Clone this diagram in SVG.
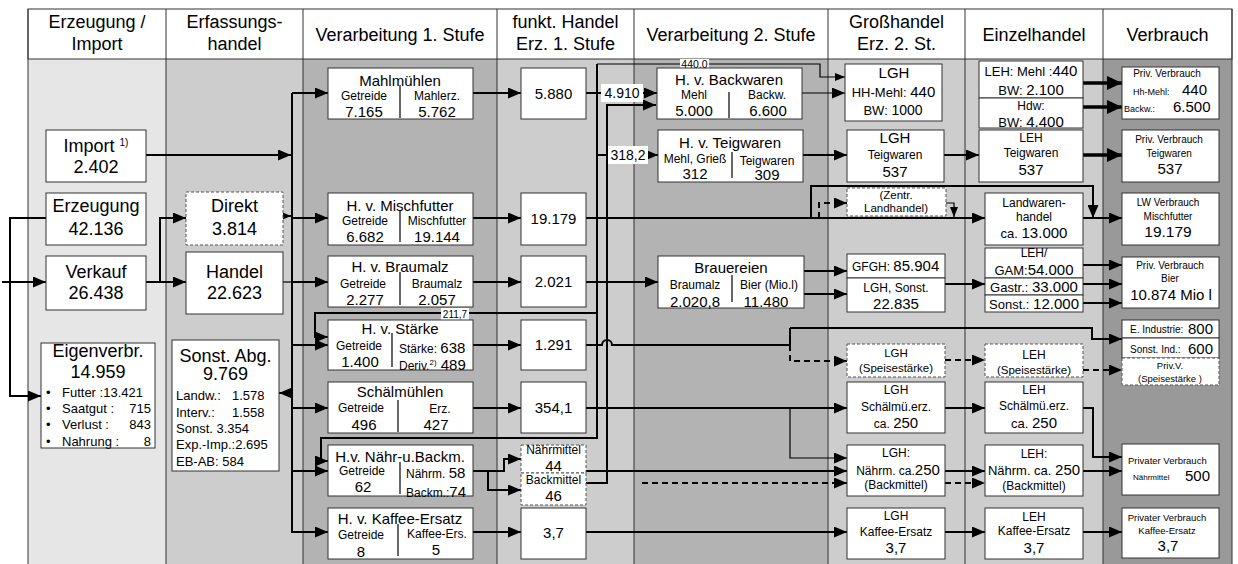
<svg xmlns="http://www.w3.org/2000/svg" width="1238" height="564" viewBox="0 0 1238 564">
<defs>
<style>
text{font-family:"Liberation Sans",Arial,sans-serif;fill:#000}
.hd{font-size:18px;text-anchor:middle}
.m{text-anchor:middle}
.f18{font-size:18px}
.f15{font-size:15px}
.f14{font-size:14px}
.f13{font-size:13px}
.f12{font-size:12px}
.f11{font-size:11.5px}
.f10{font-size:10px}
.f9{font-size:9.5px}
.bx{fill:#fff;stroke:#333;stroke-width:1}
.db{fill:#fff;stroke:#555;stroke-width:1;stroke-dasharray:3 2}
.dv{stroke:#000;stroke-width:1.2;fill:none}
.c{fill:none;stroke:#000;stroke-width:2}
.tn{stroke-width:1.2}
.th{stroke-width:3.5}
.ds{stroke-dasharray:6 4}
.lb{fill:#fff}
.col{stroke:#333;stroke-width:1;fill:none}
</style>
<marker id="a" viewBox="0 0 13 11" refX="13" refY="5.5" markerWidth="13" markerHeight="11" markerUnits="userSpaceOnUse" orient="auto"><path d="M0,0L13,5.5L0,11z" fill="#000"/></marker>
<marker id="s" viewBox="0 0 10 8" refX="10" refY="4" markerWidth="10" markerHeight="8" markerUnits="userSpaceOnUse" orient="auto"><path d="M0,0L10,4L0,8z" fill="#000"/></marker>
<marker id="b" viewBox="0 0 15 14" refX="15" refY="7" markerWidth="15" markerHeight="14" markerUnits="userSpaceOnUse" orient="auto"><path d="M0,0L15,7L0,14z" fill="#000"/></marker>
</defs>

<g id="table">
<rect x="28" y="59" width="138" height="505" fill="#e6e6e6"/>
<rect x="166" y="59" width="137" height="505" fill="#cdcdcd"/>
<rect x="303" y="59" width="194" height="505" fill="#b3b3b3"/>
<rect x="497" y="59" width="137" height="505" fill="#cdcdcd"/>
<rect x="634" y="59" width="194" height="505" fill="#b3b3b3"/>
<rect x="828" y="59" width="137" height="505" fill="#cdcdcd"/>
<rect x="965" y="59" width="138" height="505" fill="#cdcdcd"/>
<rect x="1103" y="59" width="129" height="505" fill="#999"/>
<rect x="28" y="9" width="1204" height="50" fill="#fff" stroke="#333"/>
<path class="col" d="M28,9V564M166,9V564M303,9V564M497,9V564M634,9V564M828,9V564M965,9V564M1103,9V564M1232,9V564"/>
<text class="hd" x="97" y="28">Erzeugung /</text>
<text class="hd" x="97" y="50">Import</text>
<text class="hd" x="234.5" y="28">Erfassungs-</text>
<text class="hd" x="234.5" y="50">handel</text>
<text class="hd" x="400" y="41">Verarbeitung 1. Stufe</text>
<text class="hd" x="565.5" y="28">funkt. Handel</text>
<text class="hd" x="565.5" y="50">Erz. 1. Stufe</text>
<text class="hd" x="731" y="41">Verarbeitung 2. Stufe</text>
<text class="hd" x="896.5" y="28">Großhandel</text>
<text class="hd" x="896.5" y="50">Erz. 2. St.</text>
<text class="hd" x="1034" y="41">Einzelhandel</text>
<text class="hd" x="1167.5" y="41">Verbrauch</text>
</g>

<g id="connectors">
<path class="c" d="M46,218H10V396H41" marker-end="url(#a)"/>
<path class="c" d="M2,282H46" marker-end="url(#a)"/>
<path class="c" d="M146,282H186" marker-end="url(#a)"/>
<path class="c" d="M160,282V218H186" marker-end="url(#a)"/>
<path class="c" d="M146,155H291" marker-end="url(#a)"/>
<path class="c" d="M283,216H291" marker-end="url(#a)"/>
<path class="c tn" d="M283,282H292"/>
<path class="c" d="M292,393H279" marker-end="url(#a)"/>
<path class="c" d="M292,93V533"/>
<path class="c" d="M292,93H328" marker-end="url(#a)"/>
<path class="c" d="M292,218H328" marker-end="url(#a)"/>
<path class="c" d="M292,282H328" marker-end="url(#a)"/>
<path class="c" d="M292,345H328" marker-end="url(#a)"/>
<path class="c" d="M292,408H328" marker-end="url(#a)"/>
<path class="c" d="M292,471H328" marker-end="url(#a)"/>
<path class="c" d="M292,532H328" marker-end="url(#a)"/>

<path class="c" d="M473,93H521" marker-end="url(#a)"/>
<path class="c" d="M473,218H521" marker-end="url(#a)"/>
<path class="c" d="M473,282H521" marker-end="url(#a)"/>
<path class="c" d="M473,345H521" marker-end="url(#a)"/>
<path class="c" d="M473,408H521" marker-end="url(#a)"/>
<path class="c" d="M473,471H504V459H521" marker-end="url(#a)"/>
<path class="c" d="M488,471V490H521" marker-end="url(#a)"/>
<path class="c" d="M473,532H521" marker-end="url(#a)"/>

<path class="c" d="M586,93H602"/>
<path class="c" d="M643,93H657" marker-end="url(#a)"/>
<path class="c" d="M597,64V438H321V461H328" marker-end="url(#a)"/>
<path class="c tn" d="M597,64H820V77H845" marker-end="url(#s)"/>
<path class="c" d="M597,155H608"/>
<path class="c" d="M648,155H658" marker-end="url(#a)"/>
<path class="c" d="M597,313H315V337H328" marker-end="url(#a)"/>
<path class="c" d="M586,483H607V105H656" marker-end="url(#a)"/>
<path class="c tn" d="M802,93H845" marker-end="url(#a)"/>
<path class="c th" d="M1083,83H1122" marker-end="url(#b)"/>
<path class="c th" d="M1083,107H1122" marker-end="url(#b)"/>

<path class="c" d="M803,155H847" marker-end="url(#a)"/>
<path class="c" d="M944,155H979" marker-end="url(#a)"/>
<path class="c th" d="M1083,155H1122" marker-end="url(#b)"/>

<path class="c" d="M586,218H985" marker-end="url(#a)"/>
<path class="c" d="M811,218V186H1093V218" marker-end="url(#a)"/>
<path class="c ds" d="M819,218V203H847" marker-end="url(#a)"/>
<path class="c tn" d="M946,203H954V217" marker-end="url(#s)"/>
<path class="c" d="M1083,218H1122" marker-end="url(#a)"/>

<path class="c" d="M586,282H658" marker-end="url(#a)"/>
<path class="c" d="M804,271H847" marker-end="url(#a)"/>
<path class="c" d="M804,294H847" marker-end="url(#a)"/>
<path class="c" d="M945,284H985" marker-end="url(#a)"/>
<path class="c" d="M1083,265H1122" marker-end="url(#a)"/>
<path class="c" d="M1083,284H1122" marker-end="url(#a)"/>
<path class="c" d="M1083,303H1122" marker-end="url(#a)"/>

<path class="c" d="M586,345H602A5,5 0 0 1 612,345H790"/>
<path class="c" d="M790,328V345"/>
<path class="c" d="M790,328H1092V339H1122" marker-end="url(#a)"/>
<path class="c ds" d="M790,345V361H847" marker-end="url(#a)"/>
<path class="c ds" d="M945,360H985" marker-end="url(#a)"/>
<path class="c ds" d="M1083,370H1122" marker-end="url(#a)"/>

<path class="c" d="M586,408H847" marker-end="url(#a)"/>
<path class="c tn" d="M790,408V458H847" marker-end="url(#a)"/>
<path class="c" d="M945,408H985" marker-end="url(#a)"/>
<path class="c" d="M1083,408H1093V457H1122" marker-end="url(#a)"/>

<path class="c" d="M586,471H847" marker-end="url(#a)"/>
<path class="c ds" d="M642,483H847" marker-end="url(#a)"/>
<path class="c" d="M945,471H985" marker-end="url(#a)"/>
<path class="c ds" d="M945,483H985" marker-end="url(#a)"/>
<path class="c" d="M1083,471H1122" marker-end="url(#a)"/>

<path class="c" d="M586,532H847" marker-end="url(#a)"/>
<path class="c" d="M945,532H985" marker-end="url(#a)"/>
<path class="c" d="M1083,532H1122" marker-end="url(#a)"/>

<rect class="lb" x="601" y="84" width="42" height="18"/>
<text class="f14 m" x="622" y="98">4.910</text>
<rect class="lb" x="608" y="146" width="40" height="18"/>
<text class="f14 m" x="628" y="160">318,2</text>
<rect class="lb" x="680" y="59" width="29" height="10"/>
<text class="m" style="font-size:10.5px" x="694.5" y="67.5">440,0</text>
<rect class="lb" x="441" y="308" width="28" height="12"/>
<text class="f10 m" x="455" y="318">211,7</text>
</g>

<g id="import"><rect class="bx" x="46" y="130" width="100" height="52"/>
<text class="f18 m" x="96" y="152">Import <tspan style="font-size:10px" dy="-6">1)</tspan></text>
<text class="f18 m" x="96" y="173">2.402</text></g>

<g id="erzeugung"><rect class="bx" x="46" y="193" width="100" height="52"/>
<text class="f18 m" x="96" y="212">Erzeugung</text><text class="f18 m" x="96" y="235">42.136</text></g>

<g id="verkauf"><rect class="bx" x="46" y="256" width="100" height="54"/>
<text class="f18 m" x="96" y="278">Verkauf</text><text class="f18 m" x="96" y="299">26.438</text></g>

<g id="eigenverbr"><rect class="bx" x="41" y="343" width="114" height="105"/>
<text class="f18 m" x="98" y="357">Eigenverbr.</text><text class="f18 m" x="98" y="378">14.959</text>
<g class="f13">
<text x="46" y="397">•</text><text x="62" y="397">Futter :13.421</text>
<text x="46" y="413">•</text><text x="62" y="413">Saatgut :</text><text x="151" y="413" text-anchor="end">715</text>
<text x="46" y="429">•</text><text x="62" y="429">Verlust :</text><text x="151" y="429" text-anchor="end">843</text>
<text x="46" y="446">•</text><text x="62" y="446">Nahrung :</text><text x="151" y="446" text-anchor="end">8</text>
</g></g>

<g id="direkt"><rect class="db" x="186" y="192" width="97" height="53"/>
<text class="f18 m" x="234.5" y="212">Direkt</text><text class="f18 m" x="234.5" y="235">3.814</text></g>

<g id="handel"><rect class="bx" x="186" y="252" width="97" height="62"/>
<text class="f18 m" x="234.5" y="278">Handel</text><text class="f18 m" x="234.5" y="299">22.623</text></g>

<g id="sonst-abg"><rect class="bx" x="172" y="340" width="107" height="131"/>
<text class="f18 m" x="225.5" y="362">Sonst. Abg.</text><text class="f18 m" x="225.5" y="380">9.769</text>
<g class="f13">
<text x="176" y="400">Landw.:</text><text x="232" y="400">1.578</text>
<text x="176" y="417">Interv.:</text><text x="232" y="417">1.558</text>
<text x="176" y="433">Sonst. 3.354</text>
<text x="176" y="449">Exp.-Imp.:2.695</text>
<text x="176" y="466">EB-AB: 584</text>
</g></g>

<g id="mahlmuehlen"><rect class="bx" x="328" y="68" width="145" height="51"/>
<text class="f15 m" x="400" y="86">Mahlmühlen</text>
<path class="dv" d="M400,85V118"/>
<text class="f12 m" x="364" y="100">Getreide</text><text class="f15 m" x="364" y="117">7.165</text>
<text class="f12 m" x="437" y="100">Mahlerz.</text><text class="f15 m" x="437" y="117">5.762</text></g>

<g id="mischfutter"><rect class="bx" x="328" y="193" width="145" height="52"/>
<text class="f15 m" x="400" y="211">H. v. Mischfutter</text>
<path class="dv" d="M400,210V242"/>
<text class="f12 m" x="365" y="225">Getreide</text><text class="f15 m" x="365" y="242">6.682</text>
<text class="f12 m" x="437" y="225">Mischfutter</text><text class="f15 m" x="437" y="242">19.144</text></g>

<g id="braumalz"><rect class="bx" x="328" y="256" width="145" height="51"/>
<text class="f15 m" x="400" y="272">H. v. Braumalz</text>
<path class="dv" d="M400,272V305"/>
<text class="f12 m" x="363" y="288">Getreide</text><text class="f15 m" x="365" y="305">2.277</text>
<text class="f12 m" x="437" y="288">Braumalz</text><text class="f15 m" x="437" y="305">2.057</text></g>

<g id="staerke"><rect class="bx" x="328" y="320" width="145" height="50"/>
<text class="f15 m" x="400" y="334">H. v. Stärke</text>
<path class="dv" d="M392,333V367"/>
<text class="f12 m" x="359" y="350">Getreide</text><text class="f15 m" x="360" y="367">1.400</text>
<text class="f12" x="399" y="353">Stärke: <tspan class="f15">638</tspan></text>
<text class="f12" x="399" y="370">Deriv.<tspan style="font-size:8px" dy="-5">2)</tspan><tspan class="f15" dy="5"> 489</tspan></text></g>

<g id="schaelmuehlen"><rect class="bx" x="328" y="382" width="145" height="51"/>
<text class="f15 m" x="400" y="397">Schälmühlen</text>
<path class="dv" d="M398,400V432"/>
<text class="f12 m" x="361" y="412">Getreide</text><text class="f15 m" x="364" y="430">496</text>
<text class="f12 m" x="440" y="413">Erz.</text><text class="f15 m" x="436" y="430">427</text></g>

<g id="naehr-backm"><rect class="bx" x="328" y="445" width="145" height="51"/>
<text class="f15 m" x="400" y="462">H.v. Nähr-u.Backm.</text>
<path class="dv" d="M400,462V494"/>
<text class="f12 m" x="362" y="475">Getreide</text><text class="f15 m" x="363" y="492">62</text>
<text class="f12" x="406" y="478">Nährm. <tspan class="f15">58</tspan></text>
<text class="f12" x="406" y="497">Backm.:<tspan class="f15">74</tspan></text></g>

<g id="kaffee-ersatz"><rect class="bx" x="328" y="508" width="145" height="51"/>
<text class="f15 m" x="400" y="524">H. v. Kaffee-Ersatz</text>
<path class="dv" d="M398,524V556"/>
<text class="f12 m" x="361" y="539">Getreide</text><text class="f15 m" x="361" y="557">8</text>
<text class="f12 m" x="437" y="538">Kaffee-Ers.</text><text class="f15 m" x="436" y="555">5</text></g>

<g id="fh-5880"><rect class="bx" x="521" y="68" width="65" height="51"/><text class="f15 m" x="553.5" y="99">5.880</text></g>
<g id="fh-19179"><rect class="bx" x="521" y="193" width="65" height="52"/><text class="f15 m" x="553.5" y="224">19.179</text></g>
<g id="fh-2021"><rect class="bx" x="521" y="256" width="65" height="51"/><text class="f15 m" x="553.5" y="287">2.021</text></g>
<g id="fh-1291"><rect class="bx" x="521" y="320" width="65" height="50"/><text class="f15 m" x="553.5" y="350">1.291</text></g>
<g id="fh-3541"><rect class="bx" x="521" y="382" width="65" height="51"/><text class="f15 m" x="553.5" y="413">354,1</text></g>
<g id="fh-naehrmittel"><rect class="db" x="521" y="445" width="65" height="28"/>
<text class="f12 m" x="553.5" y="454">Nährmittel</text><text class="f15 m" x="553.5" y="471">44</text></g>
<g id="fh-backmittel"><rect class="db" x="521" y="473" width="65" height="32"/>
<text class="f12 m" x="553.5" y="484">Backmittel</text><text class="f15 m" x="553.5" y="501">46</text></g>
<g id="fh-37"><rect class="bx" x="521" y="508" width="65" height="51"/><text class="f15 m" x="553.5" y="538">3,7</text></g>

<g id="backwaren"><rect class="bx" x="657" y="68" width="145" height="51"/>
<text class="f15 m" x="729" y="85">H. v. Backwaren</text>
<path class="dv" d="M729,92V118"/>
<text class="f12 m" x="694" y="99">Mehl</text><text class="f15 m" x="694" y="116">5.000</text>
<text class="f12 m" x="767" y="99">Backw.</text><text class="f15 m" x="768" y="116">6.600</text></g>

<g id="teigwaren"><rect class="bx" x="658" y="130" width="145" height="52"/>
<text class="f15 m" x="730" y="148">H. v. Teigwaren</text>
<path class="dv" d="M732,152V178"/>
<text class="f12 m" x="695" y="163">Mehl, Grieß</text><text class="f15 m" x="695" y="179">312</text>
<text class="f12 m" x="767" y="165">Teigwaren</text><text class="f15 m" x="767" y="180">309</text></g>

<g id="brauereien"><rect class="bx" x="658" y="256" width="146" height="52"/>
<text class="f15 m" x="731" y="273">Brauereien</text>
<path class="dv" d="M732,275V302"/>
<text class="f12 m" x="695" y="289">Braumalz</text><text class="f15 m" x="695" y="307">2.020,8</text>
<text class="f12 m" x="769" y="289">Bier (Mio.l)</text><text class="f15 m" x="766" y="307">11.480</text></g>

<g id="lgh-mehl"><rect class="bx" x="845" y="64" width="97" height="57"/>
<text class="f15 m" x="894" y="78">LGH</text>
<text class="f13 m" x="893.5" y="97">HH-Mehl: <tspan class="f15">440</tspan></text>
<text class="f13 m" x="893" y="115">BW: <tspan class="f14">1000</tspan></text></g>

<g id="lgh-teigwaren"><rect class="bx" x="847" y="130" width="97" height="52"/>
<text class="f15 m" x="895" y="143">LGH</text><text class="f12 m" x="895" y="159">Teigwaren</text><text class="f15 m" x="895" y="177">537</text></g>

<g id="zentr-landhandel"><rect class="db" x="847" y="188" width="99" height="28"/>
<text class="f11 m" x="896" y="199">(Zentr.</text><text class="f11 m" x="896" y="212">Landhandel)</text></g>

<g id="gfgh"><rect class="bx" x="847" y="254" width="98" height="24"/>
<text class="f12" x="852" y="271">GFGH: <tspan class="f15">85.904</tspan></text></g>
<g id="lgh-sonst"><rect class="bx" x="847" y="278" width="98" height="34"/>
<text class="f12 m" x="896" y="292">LGH, Sonst.</text><text class="f15 m" x="896" y="309">22.835</text></g>

<g id="lgh-speisestaerke"><rect class="db" x="847" y="344" width="98" height="33"/>
<text class="f11 m" x="896" y="357">LGH</text><text class="f11 m" x="896" y="372">(Speisestärke)</text></g>

<g id="lgh-schaelmue"><rect class="bx" x="847" y="382" width="98" height="51"/>
<text class="f12 m" x="896" y="394">LGH</text><text class="f12 m" x="896" y="411">Schälmü.erz.</text>
<text class="f12 m" x="896" y="428">ca. <tspan class="f15">250</tspan></text></g>

<g id="lgh-naehrm"><rect class="bx" x="847" y="445" width="98" height="51"/>
<text class="f12 m" x="896" y="457">LGH:</text>
<text class="f12 m" x="898" y="475">Nährm. ca.<tspan class="f15">250</tspan></text>
<text class="f12 m" x="896" y="489">(Backmittel)</text></g>

<g id="lgh-kaffee"><rect class="bx" x="847" y="508" width="98" height="51"/>
<text class="f12 m" x="896" y="520">LGH</text><text class="f12 m" x="896" y="536">Kaffee-Ersatz</text><text class="f15 m" x="896" y="553">3,7</text></g>

<g id="leh-mehl"><rect class="bx" x="979" y="61" width="104" height="37"/>
<text class="f13 m" x="1031" y="76">LEH: Mehl :<tspan class="f15">440</tspan></text>
<text class="f13 m" x="1031" y="95">BW: <tspan class="f15">2.100</tspan></text></g>
<g id="hdw"><rect class="bx" x="979" y="98" width="104" height="30"/>
<text class="f12 m" x="1031" y="110">Hdw:</text>
<text class="f13 m" x="1031" y="127">BW: <tspan class="f15">4.400</tspan></text></g>

<g id="leh-teigwaren"><rect class="bx" x="979" y="130" width="104" height="52"/>
<text class="f12 m" x="1031" y="142">LEH</text><text class="f12 m" x="1031" y="157">Teigwaren</text><text class="f15 m" x="1031" y="175">537</text></g>

<g id="landwarenhandel"><rect class="bx" x="985" y="193" width="98" height="52"/>
<text class="f12 m" x="1034" y="207">Landwaren-</text><text class="f12 m" x="1034" y="221">handel</text>
<text class="f13 m" x="1034" y="238">ca. <tspan class="f15">13.000</tspan></text></g>

<g id="leh-gam"><rect class="bx" x="985" y="248" width="98" height="30"/>
<text class="f12 m" x="1034" y="257">LEH/</text>
<text class="f13 m" x="1034" y="275">GAM:<tspan class="f15">54.000</tspan></text></g>
<g id="gastr"><rect class="bx" x="985" y="278" width="98" height="17"/>
<text class="f13 m" x="1034" y="292">Gastr.: <tspan class="f15">33.000</tspan></text></g>
<g id="sonst-leh"><rect class="bx" x="985" y="295" width="98" height="17"/>
<text class="f13 m" x="1034" y="309">Sonst.: <tspan class="f15">12.000</tspan></text></g>

<g id="leh-speisestaerke"><rect class="db" x="985" y="344" width="98" height="33"/>
<text class="f12 m" x="1034" y="359">LEH</text><text class="f11 m" x="1034" y="374">(Speisestärke)</text></g>

<g id="leh-schaelmue"><rect class="bx" x="985" y="382" width="98" height="51"/>
<text class="f12 m" x="1034" y="394">LEH</text><text class="f12 m" x="1034" y="410">Schälmü.erz.</text>
<text class="f13 m" x="1034" y="428">ca. <tspan class="f15">250</tspan></text></g>

<g id="leh-naehrm"><rect class="bx" x="985" y="445" width="98" height="51"/>
<text class="f12 m" x="1034" y="458">LEH:</text>
<text class="f13 m" x="1034" y="475">Nährm. ca. <tspan class="f15">250</tspan></text>
<text class="f12 m" x="1034" y="490">(Backmittel)</text></g>

<g id="leh-kaffee"><rect class="bx" x="985" y="508" width="98" height="51"/>
<text class="f12 m" x="1034" y="521">LEH</text><text class="f12 m" x="1034" y="535">Kaffee-Ersatz</text><text class="f15 m" x="1034" y="553">3,7</text></g>

<g id="priv-mehl"><rect class="bx" x="1122" y="67" width="97" height="52"/>
<text class="f10 m" x="1167" y="77">Priv. Verbrauch</text>
<text style="font-size:9px" x="1133" y="95">Hh-Mehl: <tspan class="f15" x="1182">440</tspan></text>
<text style="font-size:9px" x="1124" y="112">Backw.: <tspan class="f15" x="1173">6.500</tspan></text></g>

<g id="priv-teigwaren"><rect class="bx" x="1122" y="130" width="97" height="52"/>
<text class="f10 m" x="1169" y="143">Priv. Verbrauch</text><text class="f10 m" x="1169" y="157">Teigwaren</text><text class="f15 m" x="1170" y="174">537</text></g>

<g id="lw-verbrauch"><rect class="bx" x="1122" y="193" width="97" height="52"/>
<text class="f10 m" x="1168" y="206">LW Verbrauch</text><text class="f10 m" x="1168" y="220">Mischfutter</text><text class="m" style="font-size:15.5px" x="1168" y="237">19.179</text></g>

<g id="priv-bier"><rect class="bx" x="1122" y="257" width="97" height="51"/>
<text class="f10 m" x="1170" y="269">Priv. Verbrauch</text><text class="f10 m" x="1170" y="282">Bier</text><text class="f15 m" x="1171" y="300">10.874 Mio l</text></g>

<g id="e-industrie"><rect class="bx" x="1122" y="320" width="97" height="18"/>
<text class="f10" x="1130" y="333">E. Industrie:</text><text class="f15" x="1188" y="334">800</text></g>
<g id="sonst-ind"><rect class="bx" x="1122" y="338" width="97" height="20"/>
<text class="f10" x="1130" y="353">Sonst. Ind.:</text><text class="f15" x="1188" y="354">600</text></g>
<g id="priv-speisestaerke"><rect class="db" x="1122" y="358" width="97" height="27"/>
<text class="f9 m" x="1170" y="369">Priv.V.</text><text class="f9 m" x="1170" y="382">(Speisestärke )</text></g>

<g id="priv-naehrmittel"><rect class="bx" x="1122" y="444" width="97" height="51"/>
<text class="f9" x="1128" y="464">Privater Verbrauch</text>
<text style="font-size:8px" x="1133" y="480">Nährmittel</text><text class="f15" x="1185" y="481">500</text></g>

<g id="priv-kaffee"><rect class="bx" x="1122" y="508" width="97" height="50"/>
<text class="f9 m" x="1167" y="521">Privater Verbrauch</text><text class="f9 m" x="1167" y="534">Kaffee-Ersatz</text><text class="f15 m" x="1168" y="551">3,7</text></g>
</svg>
